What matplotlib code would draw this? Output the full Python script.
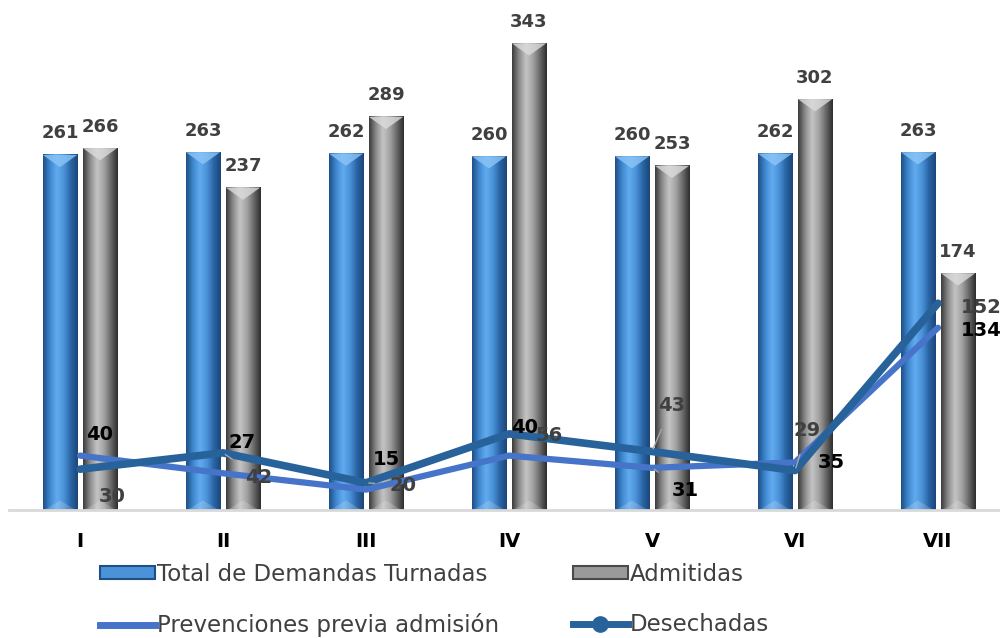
import numpy as np
import matplotlib
matplotlib.use("Agg")
import matplotlib.pyplot as plt
from matplotlib.colors import LinearSegmentedColormap
from matplotlib.patches import Patch, Polygon
from matplotlib.lines import Line2D

# data
periodos = ["I", "II", "III", "IV", "V", "VI", "VII"]
total_turnadas = [261, 263, 262, 260, 260, 262, 263]
admitidas = [266, 237, 289, 343, 253, 302, 174]
prevenciones = [40, 27, 15, 40, 31, 35, 134]
desechadas = [30, 42, 20, 56, 43, 29, 152]

# label offsets (points) for the line labels, as placed in the original
prev_off = [(14, 15), (14, 22), (15, 22), (11, 20), (24, -16), (26, 0), (31, -2)]
prev_leader = [False, False, False, False, True, False, False]
des_off = [(23, -20), (26, -18), (27, -2), (29, -1), (14, 33), (9, 29), (31, -3)]
des_leader = [False, True, True, False, True, True, False]

plt.rcParams['font.family'] = ['DejaVu Sans']

fig = plt.figure(figsize=(10, 6.38), dpi=100)
ax = fig.add_axes([0.0085, 0.2006, 1.001, 0.789])

x = np.arange(len(periodos))
w = 0.24
off = 0.14

blue_cmap = LinearSegmentedColormap.from_list(
    "b", ["#1f4f86", "#3f88d0", "#63abef", "#4a93d8", "#2a65a6", "#1c4678"])
gray_cmap = LinearSegmentedColormap.from_list(
    "g", ["#3c3c3c", "#8c8c8c", "#c4c4c4", "#a3a3a3", "#6a6a6a", "#2e2e2e"])

b1 = ax.bar(x - off, total_turnadas, w, color="#3f88d0", zorder=2)
b2 = ax.bar(x + off, admitidas, w, color="#9a9a9a", zorder=2)

grad = np.linspace(0, 1, 64).reshape(1, -1)
for bars, cmap, tip in ((b1, blue_cmap, "#8cc6f7"), (b2, gray_cmap, "#dcdcdc")):
    for r in bars:
        x0, bw, h = r.get_x(), r.get_width(), r.get_height()
        ax.imshow(grad, cmap=cmap, extent=[x0, x0 + bw, 0, h],
                  aspect="auto", zorder=2.1, interpolation="bicubic")
        # bevelled top
        ax.add_patch(Polygon([[x0, h], [x0 + bw, h], [x0 + bw / 2, h - 9]],
                             closed=True, color=tip, alpha=0.8, zorder=2.2, lw=0))
        # bevelled foot
        ax.add_patch(Polygon([[x0 + 0.01, 0], [x0 + bw - 0.01, 0], [x0 + bw / 2, 7]],
                             closed=True, color="white", alpha=0.18, zorder=2.2, lw=0))

for bars, vals in ((b1, total_turnadas), (b2, admitidas)):
    for r, v in zip(bars, vals):
        ax.annotate(str(v), (r.get_x() + r.get_width() / 2, r.get_height()),
                    xytext=(0, 9), textcoords="offset points", ha="center",
                    va="bottom", fontsize=13, fontweight="bold", color="#404040")

ax.plot(x, prevenciones, color="#4674c9", lw=4.5, zorder=4, solid_capstyle="round")
ax.plot(x, desechadas, color="#28629b", lw=5.5, zorder=5, solid_capstyle="round")

for xi, v, o, ld in zip(x, prevenciones, prev_off, prev_leader):
    ap = dict(arrowstyle="-", color="#a6a6a6", lw=1, shrinkA=9, shrinkB=2) if ld else None
    ax.annotate(str(v), (xi, v), xytext=o, textcoords="offset points",
                ha="center", va="center", fontsize=14, fontweight="bold",
                color="black", zorder=6, arrowprops=ap)
for xi, v, o, ld in zip(x, desechadas, des_off, des_leader):
    ap = dict(arrowstyle="-", color="#a6a6a6", lw=1, shrinkA=9, shrinkB=2) if ld else None
    ax.annotate(str(v), (xi, v), xytext=o, textcoords="offset points",
                ha="center", va="center", fontsize=14, fontweight="bold",
                color="#404040", zorder=6, arrowprops=ap)

ax.set_xlim(-0.5, 6.5)
ax.set_ylim(0, 370)
for s in ("top", "right", "left"):
    ax.spines[s].set_visible(False)
ax.spines["bottom"].set_color("#d9d9d9")
ax.spines["bottom"].set_linewidth(2)
ax.set_yticks([])
ax.set_xticks(x)
ax.set_xticklabels(periodos, fontsize=14, fontweight="bold")
ax.tick_params(axis="x", length=0, pad=16)

handles = [
    Patch(facecolor="#4a93d8", edgecolor="#1f4f86", lw=1.5),
    Line2D([], [], color="#4674c9", lw=5),
    Patch(facecolor="#9a9a9a", edgecolor="#4a4a4a", lw=1.5),
    Line2D([], [], color="#28629b", lw=5, marker="o", markersize=11),
]
labels = ["Total de Demandas Turnadas", "Prevenciones previa admisión",
          "Admitidas", "Desechadas"]
fig.legend(handles, labels, loc="upper left", bbox_to_anchor=(0.1, 0.118),
           ncol=2, frameon=False, fontsize=16.5, borderpad=0, borderaxespad=0,
           handlelength=2.4, handleheight=0.5, handletextpad=0.1, columnspacing=3.2,
           labelspacing=1.2, labelcolor="#404040")

fig.savefig("out.png", dpi=100)
